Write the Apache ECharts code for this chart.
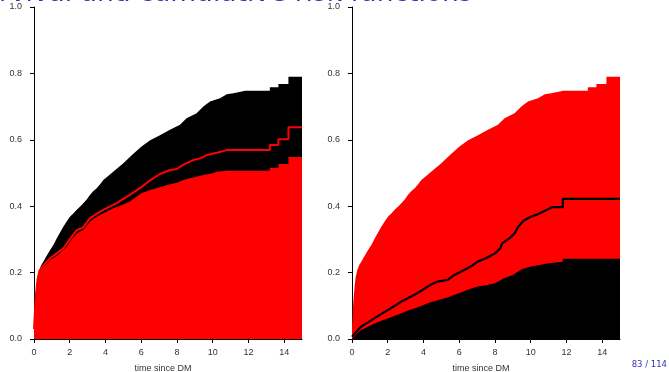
<!DOCTYPE html>
<html>
<head>
<meta charset="utf-8">
<script src="https://cdn.jsdelivr.net/npm/echarts@6/dist/echarts.min.js"></script>
<style>
html,body{margin:0;padding:0;background:#fff;}
#chart{width:669px;height:372px;}
</style>
</head>
<body>
<div id="chart"></div>
<script>
// Overall cumulative risk (top envelope, both panels)
const timeAll = [0, 0.05, 0.1, 0.15, 0.2, 0.3, 0.4, 0.52, 0.7, 0.9, 1.1, 1.27, 1.45, 1.64, 1.8, 2.01, 2.2, 2.39, 2.6, 2.76, 2.95, 3.13, 3.3, 3.51, 3.7, 3.88, 4.0, 4.5, 5.0, 5.5, 6.0, 6.5, 7.05, 7.61, 8.17, 8.54, 9.1, 9.48, 9.85, 10.41, 10.79, 11.16, 11.82, 13.2, 13.2, 13.68, 13.68, 14.24, 14.24, 15];
const cumAll = [0.03, 0.09, 0.13, 0.16, 0.185, 0.208, 0.222, 0.233, 0.25, 0.268, 0.285, 0.303, 0.32, 0.338, 0.352, 0.368, 0.378, 0.389, 0.4, 0.409, 0.42, 0.434, 0.444, 0.454, 0.466, 0.479, 0.484, 0.507, 0.529, 0.555, 0.579, 0.599, 0.614, 0.630, 0.645, 0.665, 0.680, 0.700, 0.715, 0.725, 0.737, 0.740, 0.748, 0.748, 0.758, 0.758, 0.768, 0.768, 0.790, 0.790];

// Left panel: red area (cause 1, stacked bottom)
const timeRedArea = [0, 0.05, 0.1, 0.15, 0.2, 0.3, 0.52, 0.9, 1.27, 1.55, 1.83, 2.1, 2.39, 2.76, 3.13, 3.5, 4.0, 4.44, 5.0, 5.37, 6.0, 6.5, 7.05, 7.43, 8.0, 8.36, 9.29, 10.0, 10.23, 10.79, 13.2, 13.2, 13.68, 13.68, 14.24, 14.24, 15];
const cumRedArea = [0.03, 0.09, 0.13, 0.15, 0.18, 0.203, 0.216, 0.238, 0.25, 0.263, 0.278, 0.3, 0.318, 0.328, 0.353, 0.368, 0.382, 0.394, 0.405, 0.414, 0.439, 0.449, 0.457, 0.464, 0.471, 0.479, 0.492, 0.499, 0.504, 0.507, 0.507, 0.516, 0.516, 0.527, 0.527, 0.548, 0.548];

// Left panel: red line
const timeRedLine = [0, 0.1, 0.2, 0.3, 0.52, 0.9, 1.27, 1.64, 2.0, 2.39, 2.76, 3.13, 3.5, 3.88, 4.2, 4.63, 5.0, 5.37, 5.8, 6.12, 6.5, 7.05, 7.61, 8.0, 8.36, 8.92, 9.3, 9.67, 10.23, 10.79, 13.2, 13.2, 13.68, 13.68, 14.24, 14.24, 15];
const cumRedLine = [0.03, 0.13, 0.18, 0.205, 0.222, 0.243, 0.258, 0.273, 0.3, 0.328, 0.336, 0.364, 0.377, 0.389, 0.398, 0.409, 0.422, 0.434, 0.45, 0.462, 0.478, 0.497, 0.509, 0.512, 0.525, 0.539, 0.544, 0.554, 0.561, 0.569, 0.569, 0.584, 0.584, 0.602, 0.602, 0.638, 0.638];

// Right panel: black area (cause 2, stacked bottom)
const timeBlackArea = [0, 0.25, 0.5, 0.9, 1.25, 1.6, 2.0, 2.4, 2.74, 3.1, 3.49, 3.9, 4.23, 4.6, 4.98, 5.4, 5.73, 6.1, 6.47, 7.03, 7.5, 8.0, 8.5, 9.0, 9.5, 10.0, 10.5, 11.0, 11.8, 11.8, 15];
const cumBlackArea = [0.0, 0.014, 0.027, 0.037, 0.047, 0.054, 0.062, 0.07, 0.077, 0.085, 0.092, 0.1, 0.108, 0.114, 0.12, 0.126, 0.133, 0.14, 0.148, 0.158, 0.162, 0.168, 0.183, 0.193, 0.21, 0.218, 0.223, 0.228, 0.233, 0.242, 0.242];

// Right panel: black line
const timeBlackLine = [0, 0.25, 0.5, 0.9, 1.25, 1.6, 2.0, 2.4, 2.74, 3.1, 3.49, 3.9, 4.23, 4.5, 4.79, 5.36, 5.73, 6.0, 6.29, 6.7, 7.03, 7.5, 8.0, 8.3, 8.4, 8.8, 9.1, 9.3, 9.6, 10.0, 10.4, 10.8, 11.2, 11.8, 11.8, 15];
const cumBlackLine = [0.007, 0.022, 0.037, 0.05, 0.062, 0.074, 0.087, 0.1, 0.112, 0.122, 0.133, 0.146, 0.158, 0.166, 0.173, 0.178, 0.193, 0.2, 0.208, 0.22, 0.233, 0.243, 0.258, 0.273, 0.288, 0.303, 0.318, 0.338, 0.356, 0.368, 0.376, 0.386, 0.397, 0.397, 0.422, 0.422];

const xTicks = [0, 2, 4, 6, 8, 10, 12, 14];
const yTicks = [0, 0.2, 0.4, 0.6, 0.8, 1.0];
const xTitle = 'time since DM';
const slideTitle = 'rvival and cumulative risk functions';
const pageNo = '83 / 114';

function pairs(t, v) { return t.map((x, i) => [x, v[i]]); }

const FONT = 'Liberation Sans, Arial, sans-serif';
const BLUE = '#3333B3';

function xAxisCfg(gi) {
  return {
    type: 'value', gridIndex: gi, min: 0, max: 15,
    axisLine: { show: true, lineStyle: { color: '#000', width: 1 } },
    axisTick: { show: true, length: 4, customValues: xTicks, lineStyle: { color: '#000' } },
    axisLabel: { customValues: xTicks, margin: 9, color: '#333', fontSize: 9, fontFamily: FONT },
    splitLine: { show: false }
  };
}
function yAxisCfg(gi) {
  return {
    type: 'value', gridIndex: gi, min: 0, max: 1,
    axisLine: { show: true, lineStyle: { color: '#000', width: 1 } },
    axisTick: { show: true, length: 4, customValues: yTicks, lineStyle: { color: '#000' } },
    axisLabel: { customValues: yTicks, margin: 12, color: '#333', fontSize: 9, fontFamily: FONT,
      formatter: v => v.toFixed(1) },
    splitLine: { show: false }
  };
}
function area(gi, t, v, color) {
  return { type: 'line', xAxisIndex: gi, yAxisIndex: gi, symbol: 'none',
    data: pairs(t, v), lineStyle: { width: 0 }, areaStyle: { color: color, opacity: 1 },
    silent: true };
}
function line(gi, t, v, color, w) {
  return { type: 'line', xAxisIndex: gi, yAxisIndex: gi, symbol: 'none',
    data: pairs(t, v), lineStyle: { width: w, color: color }, silent: true };
}

const chart = echarts.init(document.getElementById('chart'));
chart.setOption({
  animation: false,
  grid: [
    { left: 34, top: 7, width: 268, height: 332 },
    { left: 352, top: 7, width: 268, height: 332 }
  ],
  xAxis: [xAxisCfg(0), xAxisCfg(1)],
  yAxis: [yAxisCfg(0), yAxisCfg(1)],
  series: [
    area(0, timeAll, cumAll, '#000000'),
    area(0, timeRedArea, cumRedArea, '#FF0000'),
    line(0, timeRedLine, cumRedLine, '#FF0000', 2),
    area(1, timeAll, cumAll, '#FF0000'),
    area(1, timeBlackArea, cumBlackArea, '#000000'),
    line(1, timeBlackLine, cumBlackLine, '#000000', 2.2)
  ],
  graphic: [
    { type: 'text', left: -1, top: -19, silent: true, z: 100,
      style: { text: slideTitle, font: '26.5px DejaVu Sans', fill: BLUE } },
    { type: 'text', x: 163, y: 369, silent: true,
      style: { text: xTitle, font: '9px ' + FONT, fill: '#333', align: 'center', verticalAlign: 'middle' } },
    { type: 'text', x: 481, y: 369, silent: true,
      style: { text: xTitle, font: '9px ' + FONT, fill: '#333', align: 'center', verticalAlign: 'middle' } },
    { type: 'text', x: 667, y: 365, silent: true,
      style: { text: pageNo, font: '8.5px DejaVu Sans', fill: BLUE, align: 'right', verticalAlign: 'middle' } }
  ]
});
</script>
</body>
</html>
